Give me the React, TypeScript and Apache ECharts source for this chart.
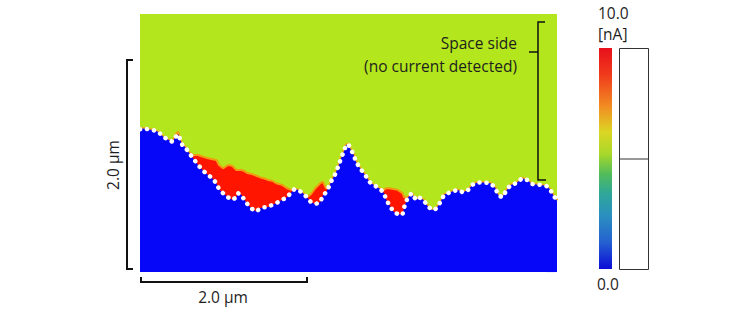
import React, { useEffect, useRef } from "react";
import * as echarts from "echarts";

// Boundary between the space side (green) and the no-data region (blue), in µm
const boundaryX = [
  0.0, 0.04, 0.1, 0.16, 0.22, 0.28, 0.33, 0.39, 0.43, 0.46, 0.48, 0.51, 0.54, 0.58, 0.64, 0.7, 0.76, 0.82, 0.87, 0.92,
  0.95, 1.0, 1.06, 1.11, 1.16, 1.18, 1.22, 1.25, 1.3, 1.35, 1.4, 1.45, 1.49, 1.54, 1.59, 1.64, 1.71, 1.77, 1.82, 1.86,
  1.9, 1.95, 2.01, 2.06, 2.11, 2.17, 2.2, 2.24, 2.28, 2.31, 2.35, 2.39, 2.42, 2.46, 2.48, 2.51, 2.53, 2.57, 2.6, 2.65,
  2.71, 2.77, 2.83, 2.89, 2.94, 2.96, 3.0, 3.05, 3.1, 3.16, 3.18, 3.22, 3.27, 3.3, 3.33, 3.36, 3.41, 3.46, 3.51, 3.55,
  3.59, 3.63, 3.66, 3.73, 3.82, 3.89, 3.95, 4.0, 4.06, 4.13, 4.22, 4.28, 4.31, 4.36, 4.41, 4.46, 4.53, 4.6, 4.66, 4.72,
  4.82, 4.89, 4.94, 4.98, 5.02,
];
const boundaryY = [
  1.72, 1.73, 1.72, 1.71, 1.69, 1.63, 1.6, 1.57, 1.63, 1.66, 1.61, 1.53, 1.51, 1.45, 1.37, 1.29, 1.22, 1.17, 1.13, 1.07,
  1.0, 0.95, 0.9, 0.87, 0.9, 0.95, 0.93, 0.88, 0.81, 0.76, 0.73, 0.77, 0.78, 0.78, 0.81, 0.83, 0.87, 0.9, 0.96, 1.0,
  0.99, 0.96, 0.9, 0.84, 0.82, 0.84, 0.92, 0.96, 1.04, 1.11, 1.18, 1.28, 1.37, 1.47, 1.53, 1.54, 1.49, 1.42, 1.33, 1.25,
  1.17, 1.08, 1.04, 1.0, 0.95, 0.88, 0.81, 0.73, 0.7, 0.69, 0.78, 0.89, 0.95, 0.9, 0.87, 0.9, 0.87, 0.8, 0.75, 0.75,
  0.8, 0.87, 0.93, 0.96, 0.99, 0.96, 0.99, 1.05, 1.08, 1.08, 1.07, 1.01, 0.93, 0.9, 0.98, 1.05, 1.07, 1.13, 1.11, 1.06,
  1.05, 1.04, 0.99, 0.92, 0.86,
];
// Upper edge of the high-current (red) patches, in µm (null where there is no red)
const redTopY = [
  null, null, null, null, null, null, null, 1.57, 1.66, 1.69, 1.61, null, null, 1.45, 1.41, 1.41, 1.39, 1.37, 1.36, 1.35,
  1.29, 1.25, 1.29, 1.28, 1.23, 1.23, 1.23, 1.22, 1.19, 1.18, 1.16, 1.14, 1.13, 1.11, 1.1, 1.07, 1.05, 1.01, 0.99, 1.0,
  null, null, 0.9, 0.94, 1.01, 1.07, 1.09, 1.01, 1.04, null, null, null, null, null, null, null, null, null, null, null,
  null, null, null, 1.0, 0.99, 1.01, 1.01, 1.0, 0.99, 0.95, 0.9, 0.9, 0.95, null, null, null, null, null, null, null,
  null, null, null, null, null, null, null, null, null, null, null, null, null, null, null, null, null, null, null, null,
  null, null, null, null, null,
];
const xRangeUm = [0, 5.02];
const yRangeUm = [0, 3.11];
const colorbarTicks = ["10.0", "[nA]", "0.0"];
const scaleBarLabel = "2.0 µm";
const regionLabels = ["Space side", "(no current detected)", "No data"];

const GREEN = "#b3e61c";
const BLUE = "#0606f8";
const RED = "#ff1500";
const FONT = "'Open Sans', 'Noto Sans', sans-serif";
const FS = 15.5;

export default function App() {
  const ref = useRef<HTMLDivElement>(null);
  useEffect(() => {
    if (!ref.current) return;
    const chart = echarts.init(ref.current, undefined, { renderer: "svg" });
    const boundaryData = boundaryX.map((x, i) => [x, boundaryY[i]]);
    const redData = boundaryX.map((x, i) => [x, redTopY[i]]);
    const ink = "#1e1e1e";
    const txt = (text: string, x: number, y: number, align: string, fill = ink, rotation = 0) => ({
      type: "text",
      x,
      y,
      rotation,
      style: { text, fontSize: FS, fontFamily: FONT, fill, align, verticalAlign: "middle" },
    });
    chart.setOption({
      animation: false,
      grid: {
        left: 140,
        top: 14,
        width: 417,
        height: 258,
        show: true,
        backgroundColor: GREEN,
        borderWidth: 0,
      },
      xAxis: { type: "value", min: xRangeUm[0], max: xRangeUm[1], show: false },
      yAxis: { type: "value", min: yRangeUm[0], max: yRangeUm[1], show: false },
      series: [
        {
          type: "line",
          data: boundaryData,
          symbol: "none",
          lineStyle: { width: 3, color: "#f0a818" },
          z: 1,
        },
        {
          type: "line",
          data: redData,
          symbol: "none",
          connectNulls: false,
          lineStyle: { width: 2, color: "#f29a10" },
          areaStyle: { color: RED, opacity: 1 },
          z: 2,
        },
        {
          type: "line",
          data: boundaryData,
          symbol: "none",
          lineStyle: { width: 0 },
          areaStyle: { color: BLUE, opacity: 1 },
          z: 3,
        },
        {
          type: "line",
          data: boundaryData,
          symbol: "none",
          lineStyle: { width: 4.5, color: "#ffffff", type: [0.1, 7], cap: "round" },
          z: 4,
        },
      ],
      graphic: [
        // colour bar
        {
          type: "rect",
          left: 599,
          top: 48,
          shape: { width: 13, height: 221 },
          style: {
            fill: new echarts.graphic.LinearGradient(0, 0, 0, 1, [
              { offset: 0, color: "#e8101c" },
              { offset: 0.12, color: "#f03a1c" },
              { offset: 0.26, color: "#f28a22" },
              { offset: 0.38, color: "#dcd624" },
              { offset: 0.48, color: "#a8d82a" },
              { offset: 0.57, color: "#52bc5a" },
              { offset: 0.66, color: "#2ea79a" },
              { offset: 0.76, color: "#2b8fc0" },
              { offset: 0.88, color: "#2460d0" },
              { offset: 1, color: "#0c0cd8" },
            ]),
          },
        },
        {
          type: "rect",
          left: 619,
          top: 48,
          shape: { width: 29, height: 221 },
          style: { fill: "#ffffff", stroke: "#333", lineWidth: 1 },
        },
        { type: "line", shape: { x1: 619, y1: 159, x2: 648, y2: 159 }, style: { stroke: "#333", lineWidth: 1 } },
        txt(colorbarTicks[0], 598, 13, "left"),
        txt(colorbarTicks[1], 598, 34, "left"),
        txt(colorbarTicks[2], 597, 284, "left"),
        // vertical scale bar
        {
          type: "polyline",
          shape: { points: [[133, 60], [127, 60], [127, 269], [133, 269]] },
          style: { stroke: "#111", lineWidth: 2, fill: "none" },
        },
        txt(scaleBarLabel, 113, 165, "center", ink, Math.PI / 2),
        // horizontal scale bar
        {
          type: "polyline",
          shape: { points: [[141, 277], [141, 282], [307, 282], [307, 277]] },
          style: { stroke: "#111", lineWidth: 2, fill: "none" },
        },
        txt(scaleBarLabel, 223, 297, "center"),
        // space-side brace
        {
          type: "polyline",
          shape: { points: [[545, 22], [538, 22], [538, 180], [546, 180]] },
          style: { stroke: "#111", lineWidth: 1.5, fill: "none" },
        },
        { type: "line", shape: { x1: 529, y1: 52, x2: 538, y2: 52 }, style: { stroke: "#111", lineWidth: 1.5 } },
        txt(regionLabels[0], 517, 43, "right"),
        txt(regionLabels[1], 517, 66, "right"),
        // no-data brace
        {
          type: "polyline",
          shape: { points: [[556, 215], [547, 215], [547, 272], [556, 272]] },
          style: { stroke: "#e8ecff", lineWidth: 1.5, fill: "none" },
        },
        { type: "line", shape: { x1: 537, y1: 243, x2: 547, y2: 243 }, style: { stroke: "#e8ecff", lineWidth: 1.5 } },
        txt(regionLabels[2], 495, 243, "center", "#ffffff"),
      ],
    });
    return () => chart.dispose();
  }, []);
  return (
    <div
      ref={ref}
      style={{ position: "absolute", left: 0, top: 0, width: 756, height: 313, background: "#fff" }}
    />
  );
}
